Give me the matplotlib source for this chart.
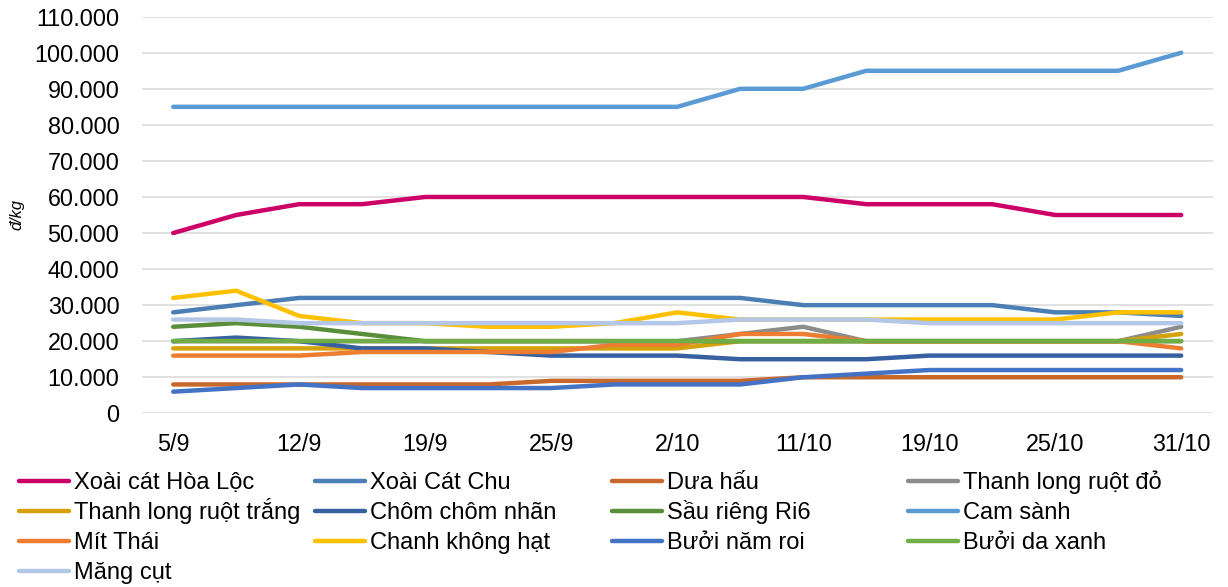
import matplotlib
matplotlib.use("Agg")
import matplotlib.pyplot as plt
from matplotlib.lines import Line2D
from matplotlib.ticker import FuncFormatter, MultipleLocator

plt.rcParams['font.family'] = ['Liberation Sans', 'DejaVu Sans']

# Weekly observations (17 points), labelled every second week
n_points = 17
tick_labels = ['5/9', '12/9', '19/9', '25/9', '2/10', '11/10', '19/10', '25/10', '31/10']

# Prices in đ/kg
xoai_cat_hoa_loc = [50000, 55000, 58000, 58000, 60000, 60000, 60000, 60000, 60000,
                    60000, 60000, 58000, 58000, 58000, 55000, 55000, 55000]
xoai_cat_chu = [28000, 30000, 32000, 32000, 32000, 32000, 32000, 32000, 32000,
                32000, 30000, 30000, 30000, 30000, 28000, 28000, 27000]
dua_hau = [8000, 8000, 8000, 8000, 8000, 8000, 9000, 9000, 9000,
           9000, 10000, 10000, 10000, 10000, 10000, 10000, 10000]
thanh_long_ruot_do = [20000, 20000, 20000, 20000, 20000, 20000, 20000, 20000, 20000,
                      22000, 24000, 20000, 20000, 20000, 20000, 20000, 24000]
thanh_long_ruot_trang = [18000, 18000, 18000, 18000, 18000, 18000, 18000, 18000, 18000,
                         20000, 20000, 20000, 20000, 20000, 20000, 20000, 22000]
chom_chom_nhan = [20000, 21000, 20000, 18000, 18000, 17000, 16000, 16000, 16000,
                  15000, 15000, 15000, 16000, 16000, 16000, 16000, 16000]
sau_rieng_ri6 = [24000, 25000, 24000, 22000, 20000, 20000, 20000, 20000, 20000,
                 20000, 20000, 20000, 20000, 20000, 20000, 20000, 20000]
cam_sanh = [85000, 85000, 85000, 85000, 85000, 85000, 85000, 85000, 85000,
            90000, 90000, 95000, 95000, 95000, 95000, 95000, 100000]
mit_thai = [16000, 16000, 16000, 17000, 17000, 17000, 17000, 19000, 19000,
            22000, 22000, 20000, 20000, 20000, 20000, 20000, 18000]
chanh_khong_hat = [32000, 34000, 27000, 25000, 25000, 24000, 24000, 25000, 28000,
                   26000, 26000, 26000, 26000, 26000, 26000, 28000, 28000]
buoi_nam_roi = [6000, 7000, 8000, 7000, 7000, 7000, 7000, 8000, 8000,
                8000, 10000, 11000, 12000, 12000, 12000, 12000, 12000]
buoi_da_xanh = [20000] * n_points
mang_cut = [26000, 26000, 25000, 25000, 25000, 25000, 25000, 25000, 25000,
            26000, 26000, 26000, 25000, 25000, 25000, 25000, 25000]

series = [
    ("Xoài cát Hòa Lộc", xoai_cat_hoa_loc, "#CC0066"),
    ("Xoài Cát Chu", xoai_cat_chu, "#4A7EB4"),
    ("Dưa hấu", dua_hau, "#C8682C"),
    ("Thanh long ruột đỏ", thanh_long_ruot_do, "#8C8C8C"),
    ("Thanh long ruột trắng", thanh_long_ruot_trang, "#D4A20A"),
    ("Chôm chôm nhãn", chom_chom_nhan, "#3660A0"),
    ("Sầu riêng Ri6", sau_rieng_ri6, "#5A8E3A"),
    ("Cam sành", cam_sanh, "#5B9BD5"),
    ("Mít Thái", mit_thai, "#ED7D31"),
    ("Chanh không hạt", chanh_khong_hat, "#FFC000"),
    ("Bưởi năm roi", buoi_nam_roi, "#4472C4"),
    ("Bưởi da xanh", buoi_da_xanh, "#70AD47"),
    ("Măng cụt", mang_cut, "#B4C7E7"),
]

W, H = 1228, 587
LW = 3.2
fig = plt.figure(figsize=(W / 100, H / 100), dpi=100)
ax = fig.add_axes([141.7 / W, 1 - 413.3 / H, (1212.7 - 141.7) / W, (413.3 - 16.7) / H])

x = list(range(n_points))
for name, vals, color in series:
    ax.plot(x, vals, color=color, lw=LW, label=name,
            solid_capstyle='round', solid_joinstyle='round', zorder=3)

ax.set_xlim(-0.5, n_points - 0.5)
ax.set_ylim(0, 110000)
ax.yaxis.set_major_locator(MultipleLocator(10000))
ax.yaxis.set_major_formatter(FuncFormatter(lambda v, p: f"{v:,.0f}".replace(",", ".")))
ax.set_xticks(range(0, n_points, 2))
ax.set_xticklabels(tick_labels)

ax.grid(axis='y', color='#D9D9D9', lw=1.1, zorder=0)
ax.grid(axis='x', visible=False)
for s in ax.spines.values():
    s.set_visible(False)
ax.tick_params(axis='both', length=0, labelsize=16.8, colors='black')
ax.tick_params(axis='y', pad=16)
ax.tick_params(axis='x', pad=14)

fig.text(17 / W, 1 - 215 / H, "đ/kg", rotation=90, style='italic', fontsize=11.8,
         ha='center', va='center')

# Legend grid: four columns, entries filled row by row, rows share one baseline
col_x = [16.7, 313.0, 610.0, 906.0]
row_y = [481.0, 511.0, 541.0, 571.0]
legend_fs = 17
cap_half = 0.716 * legend_fs * 100 / 72 / 2
for k, (name, _, color) in enumerate(series):
    r, c = divmod(k, 4)
    x0 = col_x[c] + 2.3
    x1 = col_x[c] + 52.0
    yy = 1 - row_y[r] / H
    fig.add_artist(Line2D([x0 / W, x1 / W], [yy, yy], transform=fig.transFigure,
                          color=color, lw=LW, solid_capstyle='round'))
    fig.text((col_x[c] + 57.3) / W, 1 - (row_y[r] + cap_half) / H, name,
             fontsize=legend_fs, ha='left', va='baseline')

fig.savefig("out.png", dpi=100)
